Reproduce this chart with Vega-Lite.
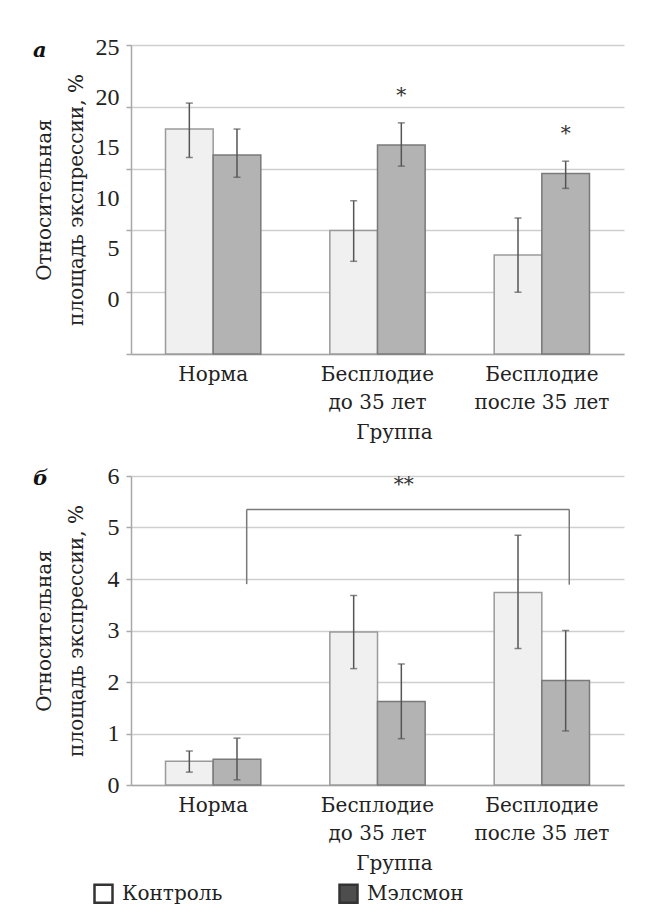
{
  "$schema": "https://vega.github.io/schema/vega-lite/v6.json",
  "background": "white",
  "padding": {"left": 33, "top": 35, "right": 5, "bottom": 5},
  "bounds": "flush",
  "spacing": 122,
  "config": {
    "font": "DejaVu Serif",
    "view": {"stroke": null},
    "axis": {
      "labelFont": "DejaVu Serif", "titleFont": "DejaVu Serif",
      "labelFontSize": 20, "titleFontSize": 20, "labelColor": "#222222", "titleColor": "#222222",
      "titleFontWeight": "normal", "domainColor": "#a8a8a8", "domainWidth": 1.5,
      "gridColor": "#cfcfcf", "gridWidth": 1.5, "tickColor": "#a8a8a8", "tickWidth": 1.5
    },
    "axisX": {"titleX": 263, "titleY": 84, "titleBaseline": "alphabetic", "titleAlign": "center",
      "labelAngle": 0, "labelPadding": 10, "labelLineHeight": 28, "ticks": false, "grid": false},
    "axisY": {"titleX": -87, "titleY": 154.5, "titleAngle": -90, "titleBaseline": "middle", "titleAlign": "center", "titleLineHeight": 32,
      "tickSize": 5, "labelPadding": 7, "grid": true, "labelFont": "Liberation Serif", "labelFontSize": 24},
    "title": {"font": "DejaVu Serif", "fontSize": 21, "fontStyle": "italic", "fontWeight": "bold", "color": "#111111"}
  },
  "resolve": {"scale": {"fill": "independent", "stroke": "independent", "color": "independent"}},
  "datasets": {
    "a": [
      {"group": "Норма", "series": "Контроль", "value": 18.2, "lo": 15.9, "hi": 20.3},
      {"group": "Норма", "series": "Мэлсмон", "value": 16.1, "lo": 14.3, "hi": 18.2},
      {"group": "Бесплодие до 35 лет", "series": "Контроль", "value": 10.0, "lo": 7.5, "hi": 12.4},
      {"group": "Бесплодие до 35 лет", "series": "Мэлсмон", "value": 16.9, "lo": 15.2, "hi": 18.7},
      {"group": "Бесплодие после 35 лет", "series": "Контроль", "value": 8.0, "lo": 5.0, "hi": 11.0},
      {"group": "Бесплодие после 35 лет", "series": "Мэлсмон", "value": 14.6, "lo": 13.4, "hi": 15.6}
    ],
    "starsA": [
      {"group": "Бесплодие до 35 лет", "series": "Мэлсмон", "y": 20.9, "label": "*"},
      {"group": "Бесплодие после 35 лет", "series": "Мэлсмон", "y": 17.8, "label": "*"}
    ],
    "b": [
      {"group": "Норма", "series": "Контроль", "value": 0.46, "lo": 0.25, "hi": 0.66},
      {"group": "Норма", "series": "Мэлсмон", "value": 0.50, "lo": 0.10, "hi": 0.91},
      {"group": "Бесплодие до 35 лет", "series": "Контроль", "value": 2.97, "lo": 2.26, "hi": 3.68},
      {"group": "Бесплодие до 35 лет", "series": "Мэлсмон", "value": 1.62, "lo": 0.90, "hi": 2.35},
      {"group": "Бесплодие после 35 лет", "series": "Контроль", "value": 3.74, "lo": 2.65, "hi": 4.85},
      {"group": "Бесплодие после 35 лет", "series": "Мэлсмон", "value": 2.03, "lo": 1.05, "hi": 3.00}
    ],
    "bracket": [
      {"x1": 0.704, "x2": 2.667, "y1": 5.35, "y2": 5.35},
      {"x1": 0.704, "x2": 0.704, "y1": 3.90, "y2": 5.35},
      {"x1": 2.667, "x2": 2.667, "y1": 3.89, "y2": 5.35}
    ],
    "starsB": [
      {"x": 1.66, "y": 5.83, "label": "**"}
    ]
  },
  "vconcat": [
    {
      "width": 493,
      "height": 309,
      "title": {"text": "а", "anchor": "start", "frame": "group", "dx": -98, "dy": 26, "offset": 0},
      "resolve": {"scale": {"y": "independent"}},
      "layer": [
        {
          "encoding": {
            "x": {"field": "group", "type": "nominal", "sort": ["Норма", "Бесплодие до 35 лет", "Бесплодие после 35 лет"],
              "scale": {"paddingInner": 0.42, "paddingOuter": 0.21},
              "axis": {"title": "Группа", "labelExpr": "split(replace(datum.label, 'Бесплодие ', 'Бесплодие|'), '|')"}},
            "xOffset": {"field": "series", "type": "nominal", "sort": ["Контроль", "Мэлсмон"], "scale": {"paddingInner": 0, "paddingOuter": 0}}
          },
          "layer": [
            {
              "data": {"name": "a"},
              "mark": {"type": "bar", "strokeWidth": 1.5},
              "encoding": {
                "y": {"field": "value", "type": "quantitative", "scale": {"domain": [0, 25], "nice": false},
                  "axis": {"values": [0, 5, 10, 15, 20, 25], "labels": false, "title": null}},
                "fill": {"field": "series", "type": "nominal", "scale": {"domain": ["Контроль", "Мэлсмон"], "range": ["#f0f0f0", "#b3b3b3"]}, "legend": null},
                "stroke": {"field": "series", "type": "nominal", "scale": {"domain": ["Контроль", "Мэлсмон"], "range": ["#9a9a9a", "#7a7a7a"]}, "legend": null}
              }
            },
            {
              "data": {"name": "a"},
              "mark": {"type": "rule", "color": "#555555", "strokeWidth": 1.5},
              "encoding": {
                "y": {"field": "lo", "type": "quantitative", "axis": {"values": [0, 5, 10, 15, 20, 25], "labels": false, "title": null}},
                "y2": {"field": "hi"}
              }
            },
            {
              "data": {"name": "a"},
              "mark": {"type": "tick", "color": "#555555", "size": 7, "thickness": 1.5},
              "encoding": {
                "y": {"field": "hi", "type": "quantitative", "axis": {"values": [0, 5, 10, 15, 20, 25], "labels": false, "title": null}}
              }
            },
            {
              "data": {"name": "a"},
              "mark": {"type": "tick", "color": "#555555", "size": 7, "thickness": 1.5},
              "encoding": {
                "y": {"field": "lo", "type": "quantitative", "axis": {"values": [0, 5, 10, 15, 20, 25], "labels": false, "title": null}}
              }
            },
            {
              "data": {"name": "starsA"},
              "mark": {"type": "text", "fontSize": 20, "baseline": "middle", "color": "#333333", "font": "DejaVu Serif"},
              "encoding": {
                "y": {"field": "y", "type": "quantitative", "axis": {"values": [0, 5, 10, 15, 20, 25], "labels": false, "title": null}},
                "text": {"field": "label"}
              }
            }
          ]
        },
        {
          "data": {"name": "a"},
          "mark": {"type": "point", "opacity": 0},
          "encoding": {
            "x": {"field": "group", "type": "nominal", "sort": ["Норма", "Бесплодие до 35 лет", "Бесплодие после 35 лет"],
              "scale": {"paddingInner": 0.42, "paddingOuter": 0.21},
              "axis": {"title": "Группа", "labelExpr": "split(replace(datum.label, 'Бесплодие ', 'Бесплодие|'), '|')"}},
            "xOffset": {"field": "series", "type": "nominal", "sort": ["Контроль", "Мэлсмон"], "scale": {"paddingInner": 0, "paddingOuter": 0}},
            "y": {"field": "value", "type": "quantitative", "scale": {"domain": [-5.456, 25.2], "nice": false, "zero": false},
              "axis": {"orient": "left", "values": [0, 5, 10, 15, 20, 25], "grid": false, "ticks": false, "tickSize": 0, "domain": false, "labelPadding": 12,
                "title": ["Относительная", "площадь экспрессии, %"]}}
          }
        }
      ]
    },
    {
      "width": 493,
      "height": 309,
      "title": {"text": "б", "anchor": "start", "frame": "group", "dx": -98, "dy": 25, "offset": 0},
      "resolve": {"scale": {"x": "independent"}},
      "layer": [
        {
          "data": {"name": "b"},
          "encoding": {
            "x": {"field": "group", "type": "nominal", "sort": ["Норма", "Бесплодие до 35 лет", "Бесплодие после 35 лет"],
              "scale": {"paddingInner": 0.42, "paddingOuter": 0.21},
              "axis": {"title": "Группа", "labelExpr": "split(replace(datum.label, 'Бесплодие ', 'Бесплодие|'), '|')"}},
            "xOffset": {"field": "series", "type": "nominal", "sort": ["Контроль", "Мэлсмон"], "scale": {"paddingInner": 0, "paddingOuter": 0}}
          },
          "layer": [
            {
              "mark": {"type": "bar", "strokeWidth": 1.5},
              "encoding": {
                "y": {"field": "value", "type": "quantitative", "scale": {"domain": [0, 6], "nice": false},
                  "axis": {"values": [0, 1, 2, 3, 4, 5, 6], "title": ["Относительная", "площадь экспрессии, %"]}},
                "fill": {"field": "series", "type": "nominal", "scale": {"domain": ["Контроль", "Мэлсмон"], "range": ["#f0f0f0", "#b3b3b3"]}, "legend": null},
                "stroke": {"field": "series", "type": "nominal", "scale": {"domain": ["Контроль", "Мэлсмон"], "range": ["#9a9a9a", "#7a7a7a"]}, "legend": null}
              }
            },
            {
              "mark": {"type": "square", "size": 0, "filled": true},
              "encoding": {
                "y": {"field": "value", "type": "quantitative", "axis": {"values": [0, 1, 2, 3, 4, 5, 6], "title": ["Относительная", "площадь экспрессии, %"]}},
                "color": {"field": "series", "type": "nominal", "sort": ["Контроль", "Мэлсмон"], "scale": {"range": ["#ffffff", "#4d4d4d"]},
                  "legend": {"orient": "none", "legendX": -38, "legendY": 407, "direction": "horizontal", "columns": 2, "title": null,
                    "columnPadding": 111, "symbolType": "square", "symbolSize": 324, "labelFontSize": 20, "labelFont": "DejaVu Serif",
                    "labelColor": "#222222", "labelOffset": 8, "padding": 0, "symbolStrokeWidth": 2.5, "symbolStrokeColor": "#333333", "symbolOpacity": 1}}
              }
            },
            {
              "mark": {"type": "rule", "color": "#555555", "strokeWidth": 1.5},
              "encoding": {
                "y": {"field": "lo", "type": "quantitative", "axis": {"values": [0, 1, 2, 3, 4, 5, 6], "title": ["Относительная", "площадь экспрессии, %"]}},
                "y2": {"field": "hi"}
              }
            },
            {
              "mark": {"type": "tick", "color": "#555555", "size": 7, "thickness": 1.5},
              "encoding": {
                "y": {"field": "hi", "type": "quantitative", "axis": {"values": [0, 1, 2, 3, 4, 5, 6], "title": ["Относительная", "площадь экспрессии, %"]}}
              }
            },
            {
              "mark": {"type": "tick", "color": "#555555", "size": 7, "thickness": 1.5},
              "encoding": {
                "y": {"field": "lo", "type": "quantitative", "axis": {"values": [0, 1, 2, 3, 4, 5, 6], "title": ["Относительная", "площадь экспрессии, %"]}}
              }
            }
          ]
        },
        {
          "layer": [
            {
              "data": {"name": "bracket"},
              "mark": {"type": "rule", "color": "#7a7a7a", "strokeWidth": 1.5},
              "encoding": {
                "x": {"field": "x1", "type": "quantitative", "scale": {"domain": [0, 3], "nice": false, "zero": false},
                  "axis": {"labels": false, "ticks": false, "domain": false, "grid": false, "title": null}},
                "x2": {"field": "x2"},
                "y": {"field": "y1", "type": "quantitative", "axis": {"values": [0, 1, 2, 3, 4, 5, 6], "title": ["Относительная", "площадь экспрессии, %"]}},
                "y2": {"field": "y2"}
              }
            },
            {
              "data": {"name": "starsB"},
              "mark": {"type": "text", "fontSize": 20, "baseline": "middle", "color": "#333333", "font": "DejaVu Serif"},
              "encoding": {
                "x": {"field": "x", "type": "quantitative", "scale": {"domain": [0, 3], "nice": false, "zero": false},
                  "axis": {"labels": false, "ticks": false, "domain": false, "grid": false, "title": null}},
                "y": {"field": "y", "type": "quantitative", "axis": {"values": [0, 1, 2, 3, 4, 5, 6], "title": ["Относительная", "площадь экспрессии, %"]}},
                "text": {"field": "label"}
              }
            }
          ]
        }
      ]
    }
  ]
}
